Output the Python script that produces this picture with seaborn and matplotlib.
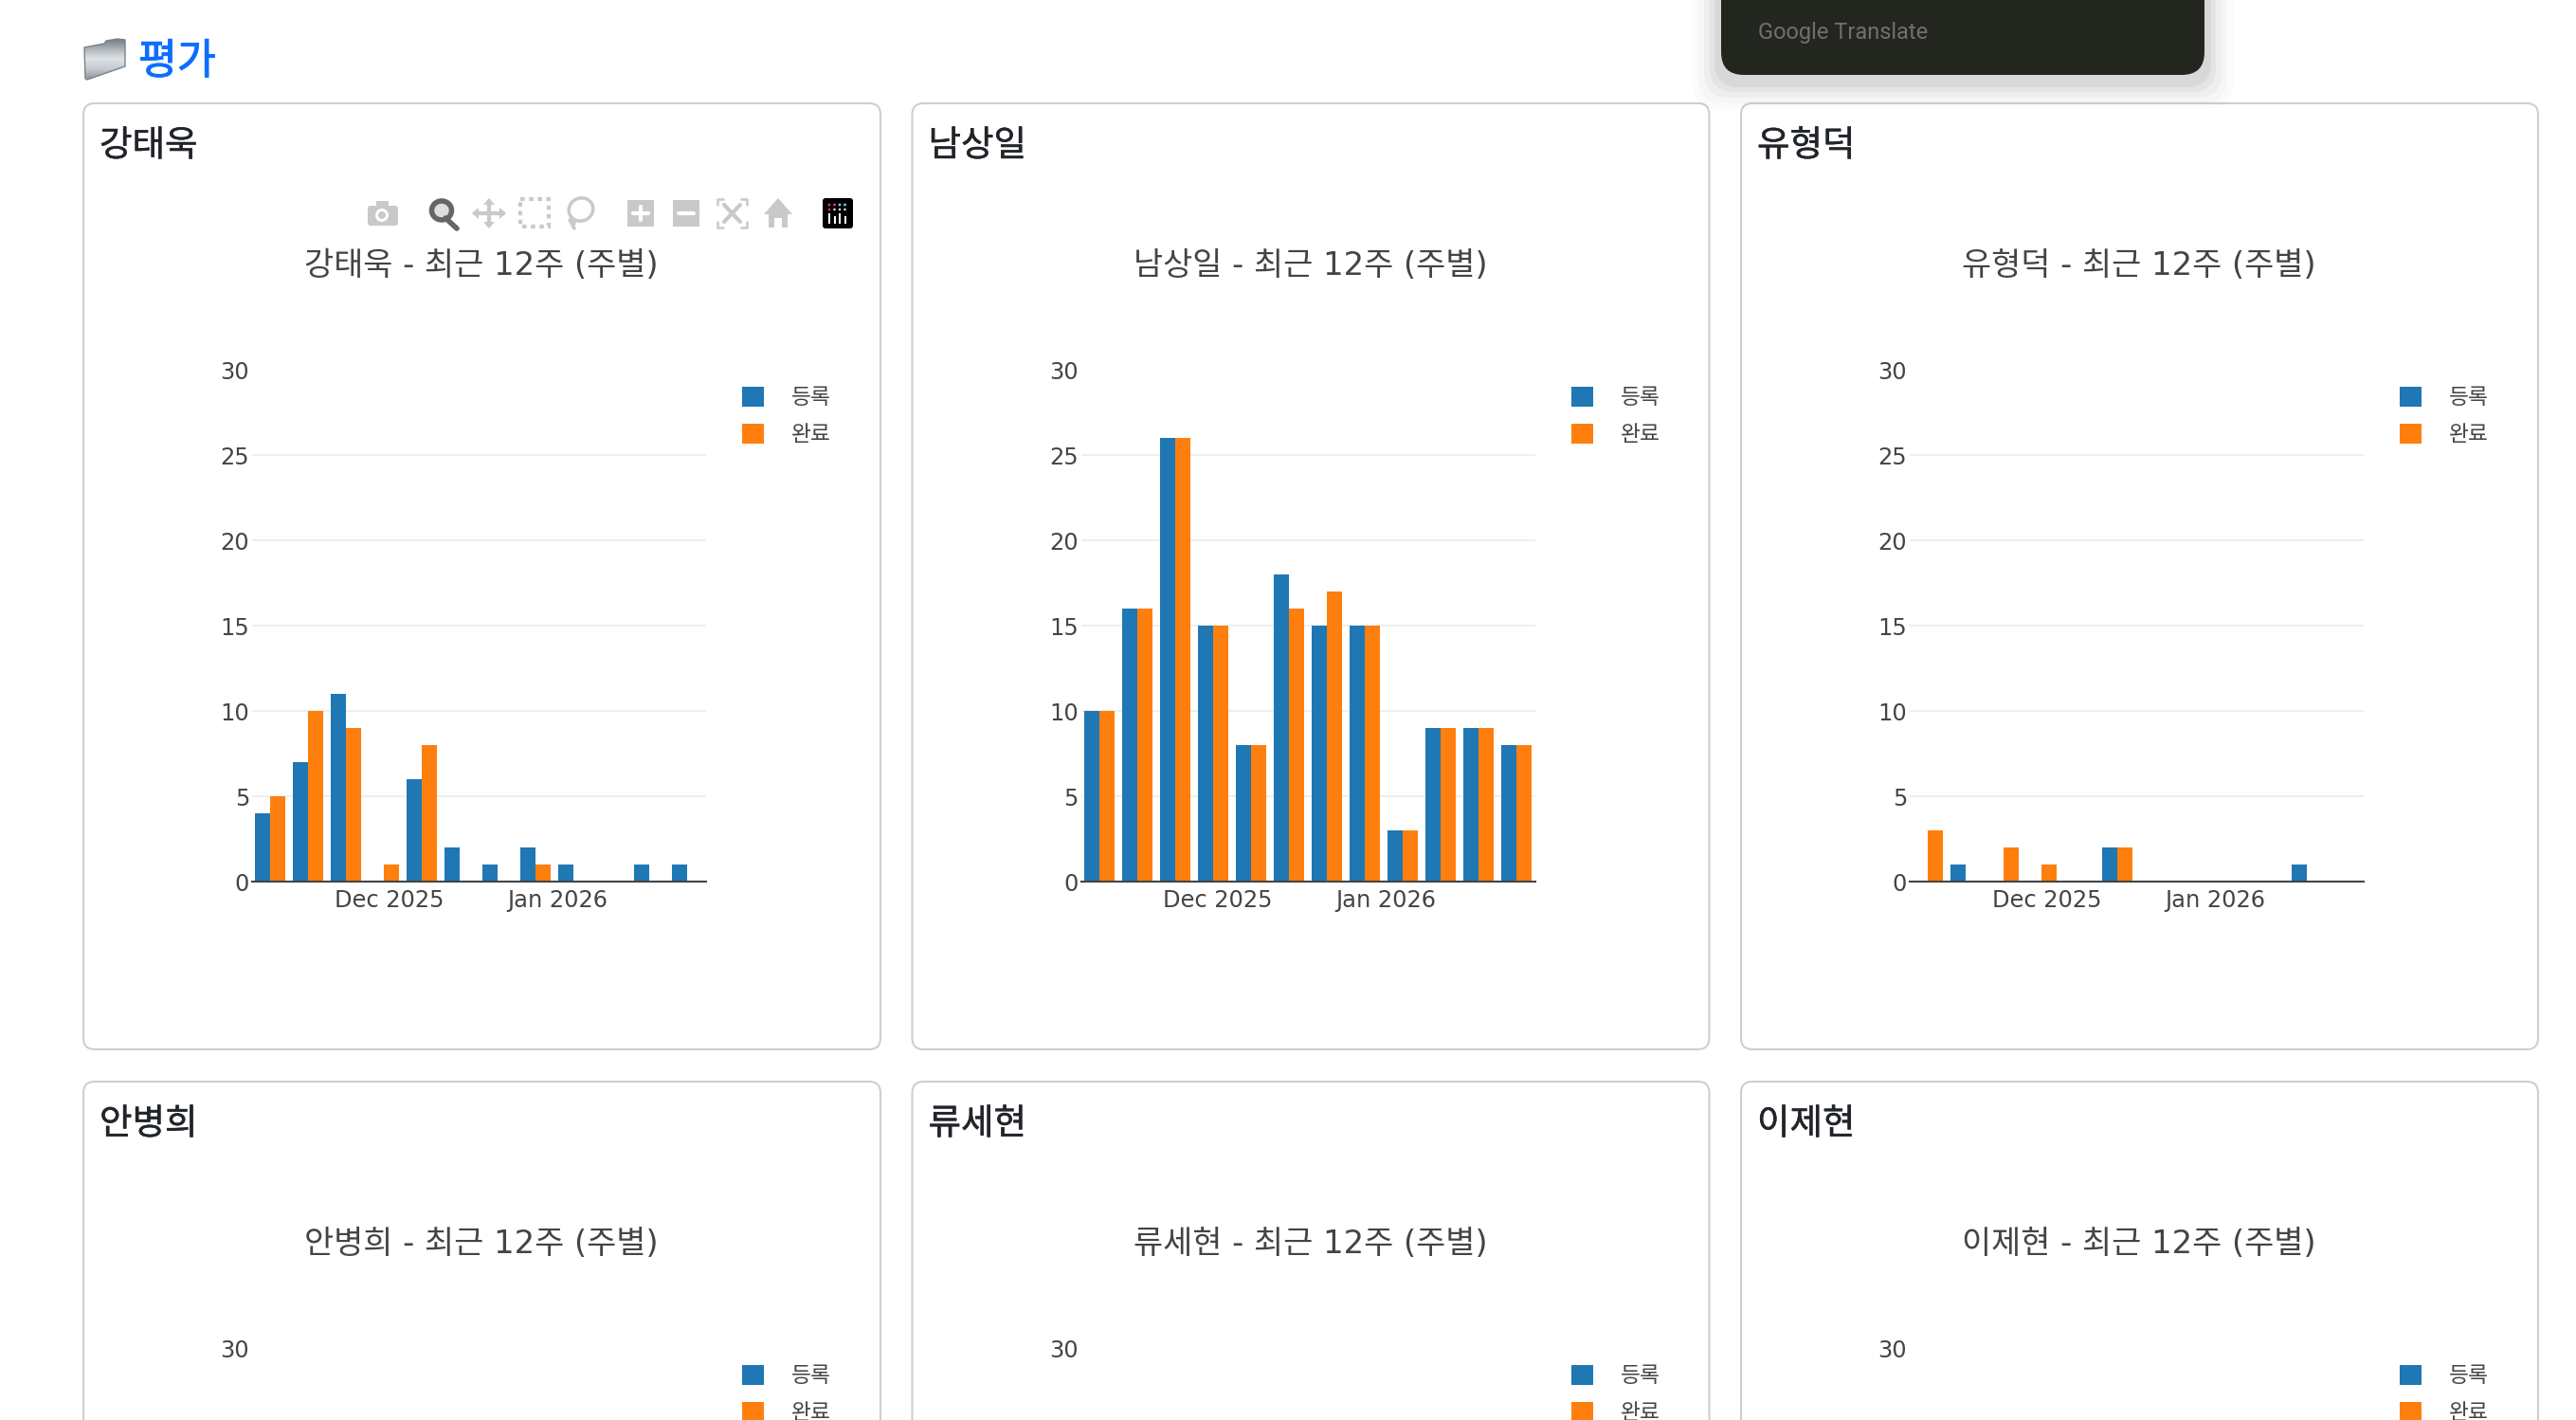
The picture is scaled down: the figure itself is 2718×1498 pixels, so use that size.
import numpy as np
import pandas as pd
import seaborn as sns
import matplotlib
matplotlib.use("Agg")
from matplotlib import pyplot as plt
from matplotlib import patheffects
from matplotlib.patches import Circle, Ellipse, FancyBboxPatch, Patch, Polygon, Rectangle

# chart values
SERIES = ["등록", "완료"]
PALETTE = ["#1f77b4", "#ff7f0e"]
WEEKS = pd.date_range("2025-11-09", periods=12, freq="7D")
TICK_DATES = pd.to_datetime(["2025-12-01", "2026-01-01"])
TICK_LABELS = ["Dec 2025", "Jan 2026"]
Y_TICKS = [0, 5, 10, 15, 20, 25, 30]

NAMES = ["강태욱", "남상일", "유형덕", "안병희", "류세현", "이제현"]
REGISTERED = {
    "강태욱": [4, 7, 11, 0, 6, 2, 1, 2, 1, 0, 1, 1],
    "남상일": [10, 16, 26, 15, 8, 18, 15, 15, 3, 9, 9, 8],
    "유형덕": [0, 1, 0, 0, 0, 2, 0, 0, 0, 0, 1, 0],
}
DONE = {
    "강태욱": [5, 10, 9, 1, 8, 0, 0, 1, 0, 0, 0, 0],
    "남상일": [10, 16, 26, 15, 8, 16, 17, 15, 3, 9, 9, 8],
    "유형덕": [3, 0, 2, 1, 0, 2, 0, 0, 0, 0, 0, 0],
}

W, H = 2718, 1498
COL_STEP = 874.5
ROW_STEP = 1032
GRAY = "#c9c9c9"

sns.set_theme(style="white")
plt.rcParams["font.family"] = ["DejaVu Sans", "Noto Sans CJK KR"]
plt.rcParams["axes.unicode_minus"] = False

fig = plt.figure(figsize=(W / 100, H / 100), dpi=100, facecolor="white")

# page layer in pixel coordinates
ov = fig.add_axes([0, 0, 1, 1], zorder=0)
ov.set_xlim(0, W)
ov.set_ylim(H, 0)
ov.axis("off")


def px_axes(x0, y0, width, height):
    return fig.add_axes([x0 / W, 1 - (y0 + height) / H, width / W, height / H], zorder=1)


def rounded(x, y, w, h, r, **kw):
    p = FancyBboxPatch((x + r, y + r), w - 2 * r, h - 2 * r, boxstyle=f"round,pad={r},rounding_size={r}", **kw)
    ov.add_patch(p)
    return p


def draw_folder():
    grad = np.linspace(0, 1, 60).reshape(-1, 1)
    im = ov.imshow(grad, extent=(88, 133, 84, 40), aspect="auto", cmap=plt.cm.colors.LinearSegmentedColormap.from_list(
        "folder", ["#6d7880", "#aab2b8", "#dfe3e6", "#c4cacf", "#8d979e"]), zorder=2)
    shape = Polygon([(89, 50), (110, 46), (112, 43), (124, 41), (132, 42), (132, 70), (92, 84), (90, 83)], closed=True,
                    transform=ov.transData, fc="none", ec="#78838a", lw=1, zorder=3)
    ov.add_patch(shape)
    im.set_clip_path(shape)
    ov.set_xlim(0, W)
    ov.set_ylim(H, 0)


def draw_popup():
    # shadow first, then the dark translate box cut by the top edge
    for grow, alpha in zip([30, 24, 18, 12, 7], [0.015, 0.02, 0.03, 0.04, 0.05]):
        rounded(1816 - grow, -40, 510 + 2 * grow, 119 + 6 + grow, 26, fc="black", ec="none", alpha=alpha, zorder=1)
    rounded(1816, -40, 510, 119, 24, fc="#23261f", ec="none", zorder=2)
    ov.text(1855, 34, "Google Translate", family="Roboto", fontsize=17, color="#6f706c", va="center", zorder=3)


def draw_modebar():
    # camera
    rounded(388, 217, 32, 21, 3, fc=GRAY, ec="none")
    ov.add_patch(Rectangle((397, 212), 13, 7, fc=GRAY, ec="none"))
    ov.add_patch(Circle((403, 227), 7, fc="white", ec="none"))
    ov.add_patch(Circle((403, 227), 4, fc=GRAY, ec="none"))
    # zoom, the active one
    ov.plot([470, 482], [230, 241], color="#666666", lw=4, solid_capstyle="round")
    ov.add_patch(Ellipse((466, 222), 21, 20, fc="#dddddd", ec="#666666", lw=4))
    # pan
    ov.plot([516, 516], [212, 238], color=GRAY, lw=3)
    ov.plot([501, 531], [225, 225], color=GRAY, lw=3)
    for tri in ([(510, 216), (522, 216), (516, 209)], [(510, 234), (522, 234), (516, 241)],
                [(505, 219), (505, 231), (498, 225)], [(527, 219), (527, 231), (534, 225)]):
        ov.add_patch(Polygon(tri, fc=GRAY, ec="none"))
    # box select
    ov.add_patch(Rectangle((549, 210), 30, 29, fc="none", ec=GRAY, lw=3, ls=(0, (1.1, 1.1))))
    # lasso
    ov.add_patch(Ellipse((613, 221), 26, 24, angle=-25, fc="none", ec=GRAY, lw=2.5))
    ov.plot([604, 606, 601, 606], [230, 236, 232, 241], color=GRAY, lw=2.5)
    # zoom in and zoom out
    ov.add_patch(Rectangle((662, 211), 28, 28, fc=GRAY, ec="none"))
    ov.plot([668, 684], [225, 225], color="white", lw=3)
    ov.plot([676, 676], [218, 232], color="white", lw=3)
    ov.add_patch(Rectangle((710, 211), 28, 28, fc=GRAY, ec="none"))
    ov.plot([716, 732], [225, 225], color="white", lw=3)
    # autoscale
    x0, x1, y0, y1 = 757, 788, 210, 240
    for xs, ys in (([x0 + 6, x0, x0], [y0, y0, y0 + 6]), ([x1 - 6, x1, x1], [y0, y0, y0 + 6]),
                   ([x0 + 6, x0, x0], [y1, y1, y1 - 6]), ([x1 - 6, x1, x1], [y1, y1, y1 - 6])):
        ov.plot(xs, ys, color=GRAY, lw=1.8)
    ov.plot([x0 + 7, x1 - 7], [y0 + 6, y1 - 6], color=GRAY, lw=3)
    ov.plot([x0 + 7, x1 - 7], [y1 - 6, y0 + 6], color=GRAY, lw=3)
    # home
    ov.add_patch(Polygon([(821, 209), (836, 226), (831, 226), (831, 240), (825, 240), (825, 230), (817, 230),
                          (817, 240), (811, 240), (811, 226), (806, 226)], fc=GRAY, ec="none"))
    # plotly logo
    rounded(868, 209, 32, 32, 3, fc="black", ec="none")
    for i, bx in enumerate([875, 880.5, 886, 891.5]):
        ov.add_patch(Rectangle((bx - 1, 225 + (i % 2) * 3), 2.2, 11 - (i % 2) * 3, fc="white", ec="none"))
        ov.add_patch(Circle((bx, 216), 1.4, fc="#ff2f7e" if i < 2 else "#6fd8ff", ec="none"))
        ov.add_patch(Circle((bx, 221), 1.2, fc="#ff2f7e" if i == 0 else "white", ec="none"))


def style_axes(ax, title, first_row):
    ax.set_xlim(-0.475, 11.5)
    ax.set_ylim(0, 30)
    ax.patch.set_alpha(0)
    ax.set_axisbelow(True)
    ax.set_xlabel("")
    ax.set_ylabel("")
    # the second row runs off the page, only its top tick is on it
    if first_row:
        ax.set_yticks(Y_TICKS)
        ax.set_xticks([(d - WEEKS[0]).days / 7 for d in TICK_DATES])
        ax.set_xticklabels(TICK_LABELS)
    else:
        ax.set_yticks(Y_TICKS[-1:])
        ax.set_xticks([])
    ax.tick_params(axis="both", length=0, labelsize=17.4, colors="#444444")
    ax.tick_params(axis="x", pad=5.5)
    ax.tick_params(axis="y", pad=2)
    ax.grid(axis="y", color="#eeeeee", lw=1.4)
    ax.grid(axis="x", visible=False)
    ax.yaxis.get_gridlines()[-1].set_visible(False)
    ax.yaxis.get_gridlines()[0].set_visible(False)
    for side in ["top", "right", "left"]:
        ax.spines[side].set_visible(False)
    ax.spines["bottom"].set_color("#444444")
    ax.spines["bottom"].set_linewidth(1.5)
    ax.set_title(title, x=0.505, y=1.188, va="center", fontsize=24.4, color="#444444")


draw_folder()
heavy = [patheffects.withStroke(linewidth=0.7, foreground="#0d6efd")]
ov.text(146, 65, "평가", family="Noto Sans CJK KR", fontsize=32, fontweight="medium", color="#0d6efd", va="center",
        path_effects=heavy)
draw_popup()
draw_modebar()

handles = [Patch(fc=c, ec="none", label=s) for c, s in zip(PALETTE, SERIES)]
name_stroke = [patheffects.withStroke(linewidth=0.35, foreground="#212529")]

for i, name in enumerate(NAMES):
    col, row = i % 3, i // 3
    dx, dy = col * COL_STEP, row * ROW_STEP

    rounded(88 + dx, 109 + dy, 841, 998, 12, fc="white", ec="#cfcfcf", lw=1.5, zorder=0.5)
    ov.text(105 + dx, 154 + dy, name, family="Noto Sans CJK KR", fontsize=27, fontweight="medium", color="#212529", va="center",
            path_effects=name_stroke)

    ax = px_axes(266 + dx, 390 + dy, 479, 540)
    if name in REGISTERED:
        df = pd.DataFrame({
            "week": list(WEEKS) * 2,
            "count": REGISTERED[name] + DONE[name],
            "series": [SERIES[0]] * 12 + [SERIES[1]] * 12,
        })
        sns.barplot(data=df, x="week", y="count", hue="series", hue_order=SERIES, order=list(WEEKS), palette=PALETTE,
                    width=0.8, gap=0, saturation=1, linewidth=0, legend=False, ax=ax)
    style_axes(ax, f"{name} - 최근 12주 (주별)", row == 0)

    ax.legend(handles=handles, loc="upper left", bbox_to_anchor=(783 + dx, 408 + dy), bbox_transform=ov.transData,
              frameon=False, fontsize=16.4, labelcolor="#444444", borderpad=0, borderaxespad=0, handlelength=1.02,
              handleheight=1.05, handletextpad=1.27, labelspacing=0.68)

fig.savefig("out.png", dpi=100)
